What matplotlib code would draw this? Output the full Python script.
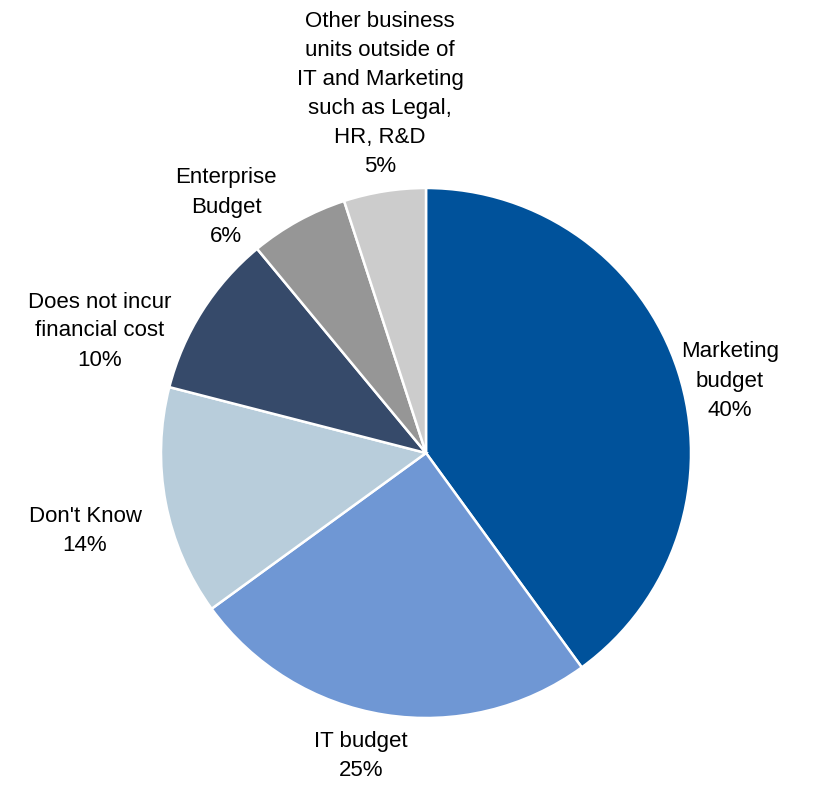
import matplotlib
matplotlib.use("Agg")
import matplotlib.pyplot as plt

# Budget sources, clockwise from 12 o'clock
categories = [
    "Marketing\nbudget",
    "IT budget",
    "Don't Know",
    "Does not incur\nfinancial cost",
    "Enterprise\nBudget",
    "Other business\nunits outside of\nIT and Marketing\nsuch as Legal,\nHR, R&D",
]
shares = [40, 25, 14, 10, 6, 5]
colors = ["#00529B", "#6F97D4", "#B8CDDB", "#364A6A", "#969696", "#CCCCCC"]

# label centres in pixels (x from left, y from top)
label_pos = [(730, 381), (361, 756), (85, 531), (100, 331), (226, 207), (380, 94)]

W, H = 813, 785
fig = plt.figure(figsize=(W / 100, H / 100), dpi=100)
ax = fig.add_axes([0, 0, 1, 1])

cx, cy, r = 426, H - 453, 265
ax.pie(shares, colors=colors, startangle=90, counterclock=False,
       center=(cx, cy), radius=r, frame=True,
       wedgeprops=dict(edgecolor="white", linewidth=1.8))
ax.set_xlim(0, W)
ax.set_ylim(0, H)
ax.set_aspect("equal")
ax.axis("off")

for name, val, (x, y) in zip(categories, shares, label_pos):
    ax.text(x, H - y, f"{name}\n{val}%", ha="center", va="center",
            fontsize=16, linespacing=1.5, color="black",
            family=["Liberation Sans Narrow", "Liberation Sans"])

fig.savefig("out.png", dpi=100)
